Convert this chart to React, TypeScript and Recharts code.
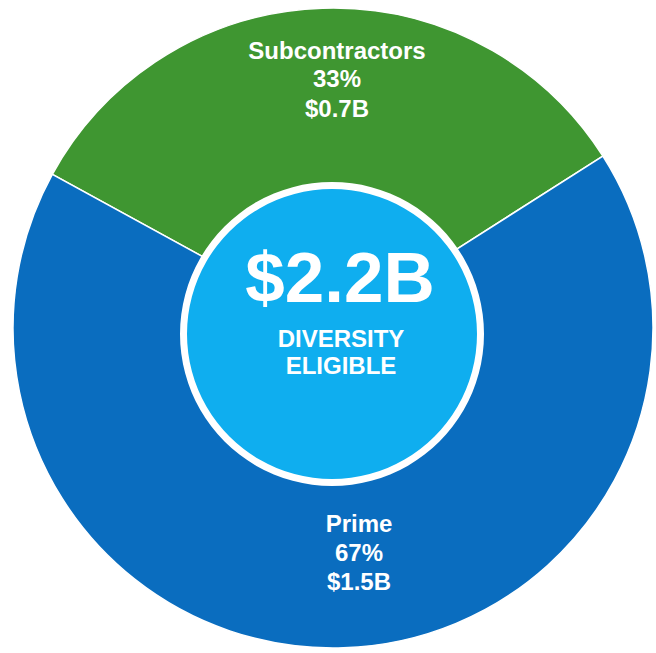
// Diversity eligible spend — prime vs subcontractors donut with a centre total.

import { Pie, PieChart } from "recharts";

const segments = ["Subcontractors", "Prime"];
const shares = [33, 67];
const amounts = ["$0.7B", "$1.5B"];
const totalLabel = ["$2.2B", "DIVERSITY", "ELIGIBLE"];
const total = [2.2];

const COLORS = ["#3f9631", "#0a6dbf"];
const FONT = "'Liberation Sans', Arial, sans-serif";

const data = segments.map((name, i) => ({
  name,
  value: shares[i],
  amount: amounts[i],
  fill: COLORS[i],
}));
const totalData = total.map((value) => ({ name: "total", value }));

// label blocks: x offset from centre, baselines relative to centre
const LABEL_POS = [
  { dx: 4, ys: [-269, -241, -211] },
  { dx: 26, ys: [204, 233, 262] },
];

function SegmentLabel(props: any) {
  const { cx, cy, index } = props;
  const d = data[index];
  const pos = LABEL_POS[index];
  const lines = [d.name, `${d.value}%`, d.amount];
  return (
    <g>
      {lines.map((t, i) => (
        <text
          key={i}
          x={cx + pos.dx}
          y={cy + pos.ys[i]}
          textAnchor="middle"
          fill="#fff"
          fontFamily={FONT}
          fontWeight="bold"
          fontSize={24}
        >
          {t}
        </text>
      ))}
    </g>
  );
}

function CenterLabel(props: any) {
  const { cx, cy } = props;
  return (
    <g>
      <text x={cx + 8} y={cy - 32} textAnchor="middle" fill="#fff" fontFamily={FONT} fontWeight="bold" fontSize={71}>
        {totalLabel[0]}
      </text>
      <text x={cx + 9} y={cy + 13} textAnchor="middle" fill="#fff" fontFamily={FONT} fontWeight="bold" fontSize={24}>
        {totalLabel[1]}
      </text>
      <text x={cx + 9} y={cy + 40} textAnchor="middle" fill="#fff" fontFamily={FONT} fontWeight="bold" fontSize={24}>
        {totalLabel[2]}
      </text>
    </g>
  );
}

export default function App() {
  return (
    <div style={{ position: "absolute", left: 0, top: 0, width: 656, height: 653, background: "#fff" }}>
      <PieChart width={656} height={653} margin={{ top: 0, right: 0, bottom: 0, left: 0 }}>
        <Pie
          data={data}
          dataKey="value"
          cx={333}
          cy={328}
          innerRadius={120}
          outerRadius={320}
          startAngle={32.5}
          endAngle={392.5}
          stroke="#fff"
          strokeWidth={1.5}
          label={SegmentLabel}
          labelLine={false}
          isAnimationActive={false}
        />
        <Pie
          data={totalData}
          dataKey="value"
          cx={332}
          cy={334}
          outerRadius={152}
          fill="#ffffff"
          stroke="none"
          isAnimationActive={false}
        />
        <Pie
          data={totalData}
          dataKey="value"
          cx={332}
          cy={334}
          outerRadius={145}
          fill="#0faeef"
          stroke="none"
          label={CenterLabel}
          labelLine={false}
          isAnimationActive={false}
        />
      </PieChart>
    </div>
  );
}
